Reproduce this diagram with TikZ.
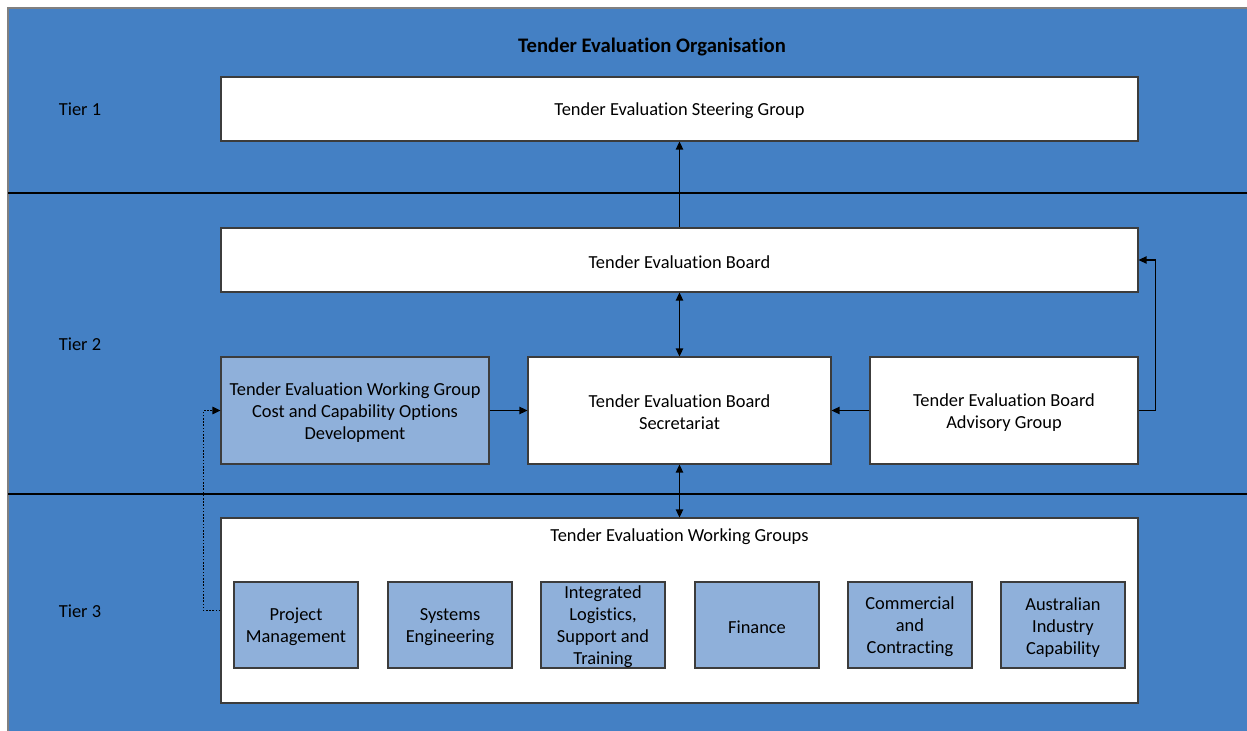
\documentclass[tikz,border=0pt]{standalone}
\usepackage{fontspec}
\setmainfont{Carlito}[Ligatures=NoCommon]
\usetikzlibrary{arrows.meta}
\definecolor{bgblue}{RGB}{68,128,196}
\definecolor{lightblue}{RGB}{143,176,218}
\definecolor{edgegray}{RGB}{60,60,60}
\newcommand{\tallstrut}{\rule{0pt}{12.8pt}}
\tikzset{
  box/.style={draw=edgegray, line width=0.8pt, fill=white, align=center, font=\fontsize{13.8}{16.5}\selectfont, inner sep=2pt},
  lbox/.style={box, fill=lightblue},
  small/.style={lbox, inner sep=0pt, minimum width=93pt, minimum height=64.5pt},
  arr/.style={draw=black, line width=0.9pt, -{Triangle[length=6pt,width=5.5pt]}},
  darr/.style={draw=black, line width=0.9pt, {Triangle[length=6pt,width=5.5pt]}-{Triangle[length=6pt,width=5.5pt]}},
  dotarr/.style={arr, line width=1.1pt, dash pattern=on 1.2pt off 1.2pt},
  tier/.style={font=\fontsize{13.8}{16.5}\selectfont},
}
\begin{document}
\begin{tikzpicture}[x=0.75pt, y=-0.75pt]
\useasboundingbox (0,0) rectangle (1247,731);
\fill[bgblue] (8,8) rectangle (1247,731);
\draw[gray, line width=1pt] (8,731) -- (8,8) -- (1247,8);
\draw[black, line width=1pt] (8,193) -- (1247,193);
\draw[black, line width=1pt] (8,494) -- (1247,494);

\node[font=\bfseries\fontsize{15.5}{18}\selectfont] (title) at (652,47) {Tender Evaluation Organisation};
\node[tier] (t1) at (80,109) {Tier 1};
\node[tier] (t2) at (80,344) {Tier 2};
\node[tier] (t3) at (80,611) {Tier 3};

\node[box, minimum width=687.75pt, minimum height=48pt] (steer) at (679.5,109) {\tallstrut Tender Evaluation Steering Group};
\node[box, minimum width=687.75pt, minimum height=48pt] (board) at (679.5,260) {\tallstrut Tender Evaluation Board};
\node[lbox, minimum width=201pt, minimum height=80.25pt] (cost) at (355,410.5) {\tallstrut Tender Evaluation Working Group\\Cost and Capability Options\\Development};
\node[box, minimum width=227.25pt, minimum height=80.25pt] (sec) at (679.5,410.5) {\tallstrut Tender Evaluation Board\\Secretariat};
\node[box, minimum width=201pt, minimum height=80.25pt] (adv) at (1004,410.5) {\tallstrut Tender Evaluation Board\\Advisory Group};
\node[box, minimum width=687.75pt, minimum height=138.75pt] (wgs) at (679.5,610.5) {};
\node[font=\fontsize{13.8}{16.5}\selectfont] (wgtitle) at (679.5,537) {Tender Evaluation Working Groups};

\node[small] (pm) at (296,625) {\tallstrut Project\\Management};
\node[small] (se) at (450,625) {\tallstrut Systems\\Engineering};
\node[small, text depth=0pt] (ils) at (603,625) {Integrated\\Logistics,\\Support and\\Training};
\node[small] (fin) at (757,625) {\tallstrut Finance};
\node[small] (cc) at (910,625) {\tallstrut Commercial\\and\\Contracting};
\node[small] (aic) at (1063,625) {\tallstrut Australian\\Industry\\Capability};

\draw[arr] (board.north) -- (steer.south);
\draw[darr] (board.south) -- (sec.north);
\draw[darr] (sec.south) -- (wgs.north);
\draw[arr] (cost.east) -- (sec.west);
\draw[arr] (adv.west) -- (sec.east);
\draw[arr] (adv.east) -- ++(17,0) |- (board.east);
\draw[dotarr] (wgs.west) -- ++(-17,0) |- (cost.west);
\end{tikzpicture}
\end{document}
